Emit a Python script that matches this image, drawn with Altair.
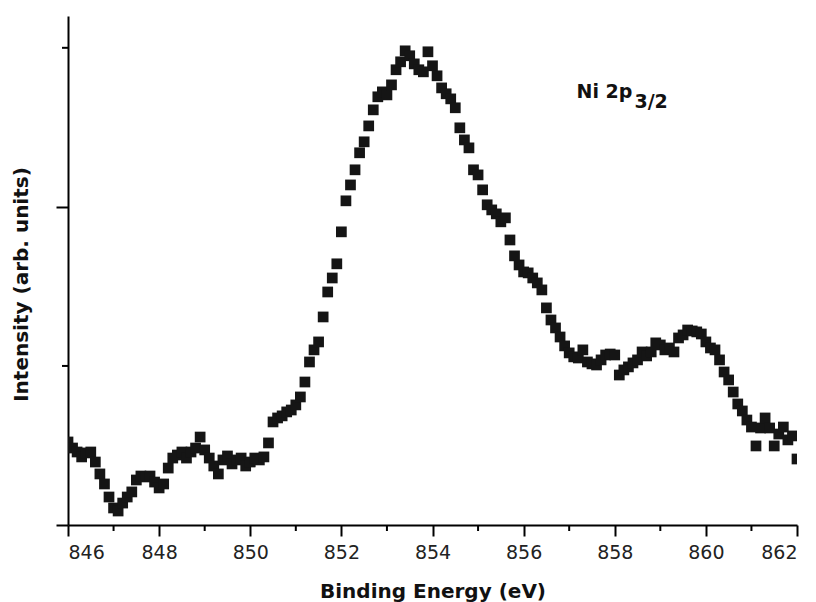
import altair as alt
import pandas as pd

# Ni 2p3/2 XPS spectrum (0.1 eV steps from 846 eV)
energy_start = 846.0
energy_step = 0.1
intensity = [
    0.522, 0.484, 0.459, 0.428, 0.453, 0.459, 0.396, 0.321, 0.258, 0.176,  # 846.0-846.9
    0.107, 0.088, 0.138, 0.176, 0.208, 0.283, 0.308, 0.302, 0.308, 0.270,  # 847.0-847.9
    0.233, 0.258, 0.358, 0.421, 0.440, 0.459, 0.421, 0.459, 0.484, 0.553,  # 848.0-848.9
    0.472, 0.421, 0.371, 0.321, 0.409, 0.434, 0.384, 0.409, 0.421, 0.371,  # 849.0-849.9
    0.396, 0.421, 0.409, 0.428, 0.516, 0.648, 0.673, 0.686, 0.711, 0.723,  # 850.0-850.9
    0.755, 0.805, 0.899, 1.025, 1.101, 1.151, 1.308, 1.465, 1.553, 1.642,  # 851.0-851.9
    1.843, 2.038, 2.138, 2.233, 2.340, 2.409, 2.509, 2.610, 2.692, 2.723,  # 852.0-852.9
    2.704, 2.767, 2.862, 2.912, 2.981, 2.950, 2.899, 2.862, 2.849, 2.975,  # 853.0-853.9
    2.887, 2.824, 2.748, 2.711, 2.679, 2.623, 2.497, 2.421, 2.371, 2.233,  # 854.0-854.9
    2.201, 2.107, 2.013, 1.981, 1.956, 1.906, 1.931, 1.792, 1.692, 1.635,  # 855.0-855.9
    1.591, 1.585, 1.553, 1.522, 1.478, 1.365, 1.289, 1.239, 1.182, 1.126,  # 856.0-856.9
    1.082, 1.057, 1.050, 1.101, 1.025, 1.013, 1.006, 1.038, 1.069, 1.075,  # 857.0-857.9
    1.069, 0.943, 0.975, 0.994, 1.019, 1.038, 1.088, 1.063, 1.088, 1.145,  # 858.0-858.9
    1.132, 1.101, 1.113, 1.088, 1.176, 1.195, 1.226, 1.220, 1.214, 1.201,  # 859.0-859.9
    1.151, 1.113, 1.101, 1.038, 0.962, 0.912, 0.836, 0.761, 0.717, 0.660,  # 860.0-860.9
    0.616, 0.497, 0.610, 0.673, 0.610, 0.497, 0.572, 0.616, 0.535, 0.560,  # 861.0-861.9
    0.415,                                                                 # 862.0
]
energy = [round(energy_start + energy_step * i, 1) for i in range(len(intensity))]

x_major = [846, 848, 850, 852, 854, 856, 858, 860, 862]
x_minor = [847, 849, 851, 853, 855, 857, 859, 861]
y_major = [0, 2]
y_minor = [1, 3]

x_title = "Binding Energy (eV)"
y_title = "Intensity (arb. units)"
label_main = "Ni 2p"
label_sub = "3/2"
label_x = 858.41
label_y = 2.686

W, H = 729, 509
FONT = "DejaVu Sans"
INK = "#151515"

xscale = alt.Scale(domain=[846, 862], nice=False, zero=False)
yscale = alt.Scale(domain=[0, 3.2], nice=False, zero=False)

df = pd.DataFrame({"energy": energy, "intensity": intensity})

points = alt.Chart(df).mark_square(size=115, color=INK, opacity=1, strokeWidth=0, clip=True).encode(
    x=alt.X(
        "energy:Q",
        scale=xscale,
        axis=alt.Axis(
            values=x_major,
            title=x_title,
            tickSize=11,
            labelPadding=7,
            labelFont=FONT,
            labelFontSize=19,
            labelColor="#222222",
            titleFont=FONT,
            titleFontSize=20,
            titleFontWeight="bold",
            titleColor="#111111",
            titleBaseline="alphabetic",
            titleY=72,
        ),
    ),
    y=alt.Y(
        "intensity:Q",
        scale=yscale,
        axis=alt.Axis(
            values=y_major,
            labels=False,
            title=y_title,
            tickSize=12,
            titleFont=FONT,
            titleFontSize=20,
            titleFontWeight="bold",
            titleColor="#111111",
            titleBaseline="alphabetic",
            titleAngle=270,
            titleAlign="center",
            titleX=-41,
            titleY=268,
        ),
    ),
)

y_minor_ticks = alt.Chart(pd.DataFrame({"intensity": y_minor})).mark_rule(
    color="black", strokeWidth=2
).encode(
    y=alt.Y("intensity:Q", scale=yscale),
    x=alt.value(-6),
    x2=alt.value(0),
)

x_minor_ticks = alt.Chart(pd.DataFrame({"energy": x_minor})).mark_rule(
    color="black", strokeWidth=2
).encode(
    x=alt.X("energy:Q", scale=xscale),
    y=alt.value(H),
    y2=alt.value(H + 6),
)

lab_df = pd.DataFrame({"energy": [label_x], "intensity": [label_y]})
lab_main = alt.Chart(lab_df).mark_text(
    text=label_main, align="right", baseline="alphabetic", font=FONT,
    fontSize=19, fontWeight="bold", color="#111111", dx=-1,
).encode(
    x=alt.X("energy:Q", scale=xscale),
    y=alt.Y("intensity:Q", scale=yscale),
)
lab_sub = alt.Chart(lab_df).mark_text(
    text=label_sub, align="left", baseline="alphabetic", font=FONT,
    fontSize=19, fontWeight="bold", color="#111111", dx=1, dy=10,
).encode(
    x=alt.X("energy:Q", scale=xscale),
    y=alt.Y("intensity:Q", scale=yscale),
)

chart = (
    alt.layer(points, y_minor_ticks, x_minor_ticks, lab_main, lab_sub)
    .properties(
        width=W,
        height=H,
        autosize=alt.AutoSizeParams(type="none"),
        padding={"left": 68, "top": 16, "right": 19, "bottom": 77},
        background="white",
    )
    .configure_view(stroke=None)
    .configure_axis(
        grid=False,
        domainColor="black",
        domainWidth=2,
        tickColor="black",
        tickWidth=2,
    )
)

chart.save("out.html", embed_options={"renderer": "svg", "actions": False})
